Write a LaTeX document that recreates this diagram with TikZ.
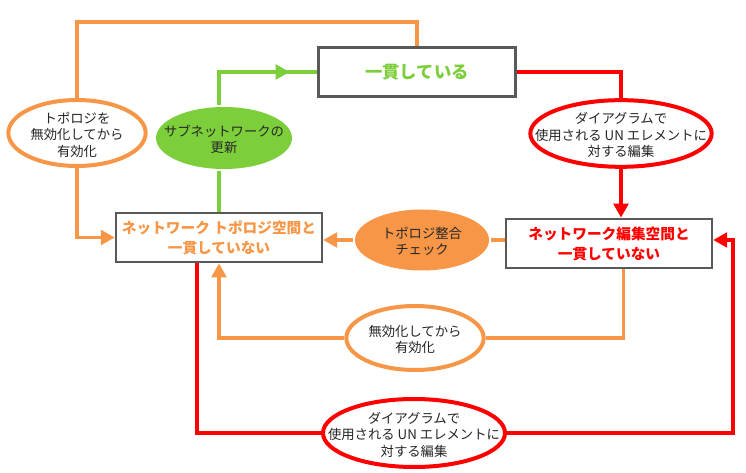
\documentclass[tikz,border=0pt]{standalone}
\usepackage{fontspec}
\setmainfont{Noto Sans CJK JP}
\usepackage{xcolor}
\usetikzlibrary{positioning,arrows.meta,shapes.geometric,decorations.markings}
\definecolor{topoorange}{HTML}{F79646}
\definecolor{subgreen}{HTML}{7DCE3B}
\definecolor{editred}{HTML}{FF0000}
\definecolor{boxgray}{HTML}{595959}
\definecolor{txtgray}{HTML}{262626}
\newcommand{\elltext}[1]{\makebox[0pt]{\raisebox{-5pt}[0pt][0pt]{\begin{tabular}{@{}c@{}}#1\end{tabular}}}}

\begin{document}
\begin{tikzpicture}[
  x=0.75pt, y=-0.75pt,
  >={Triangle[length=10.5pt,width=11pt]},
  state/.style={rectangle, draw=boxgray, line width=1.8pt, fill=white, align=center, font=\fontsize{11}{15}\selectfont\bfseries, minimum width=154.5pt, minimum height=37pt},
  act/.style={ellipse, draw, line width=3pt, fill=white, text=txtgray, font=\fontsize{10}{12.3}\selectfont, inner sep=0pt},
  olink/.style={draw=topoorange, line width=2.6pt},
  rlink/.style={draw=editred, line width=2.6pt},
  glink/.style={draw=subgreen, line width=2.6pt}
]
\useasboundingbox (0,0) rectangle (746,473);

\node[state, text=subgreen, minimum width=148pt, font=\fontsize{13}{15}\selectfont\bfseries] (cons) at (417,72) {一貫している};
\node[state, text=topoorange] (topoin) at (219,237.5) {ネットワーク トポロジ空間と\\一貫していない};
\node[state, text=editred] (editin) at (609,243.5) {ネットワーク編集空間と\\一貫していない};

\node[act, draw=topoorange, minimum width=103pt, minimum height=49.5pt] (reen1) at (77,133) {\elltext{トポロジを\\無効化してから\\有効化}};
\node[act, draw=none, fill=subgreen, minimum width=102pt, minimum height=46.5pt] (subnet) at (224,138) {\elltext{サブネットワークの\\更新}};
\node[act, draw=editred, minimum width=136pt, minimum height=50pt] (diag1) at (621,133.5) {\elltext{ダイアグラムで\\使用される UN エレメントに\\対する編集}};
\node[act, draw=none, fill=topoorange, minimum width=100.5pt, minimum height=45.75pt] (check) at (422,240) {\elltext{トポロジ整合\\チェック}};
\node[act, draw=topoorange, minimum width=103pt, minimum height=48pt] (reen2) at (415,338) {\elltext{無効化してから\\有効化}};
\node[act, draw=editred, minimum width=136.5pt, minimum height=51pt] (diag2) at (414,433) {\elltext{ダイアグラムで\\使用される UN エレメントに\\対する編集}};

\coordinate (topleft) at (77,22);
\coordinate (farright) at (733,240);

\draw[olink] (cons.north) |- (topleft) -- (reen1.north);
\draw[olink,->] (reen1.south) |- (topoin.west);
\draw[glink] (topoin.north) -- (topoin.north |- subnet.south);
\draw[glink, decoration={markings, mark=at position 0.79 with {\arrow{Triangle[length=10.5pt,width=11pt]}}}, postaction=decorate] (subnet.north -| topoin.north) |- (cons.west);
\draw[rlink] (cons.east) -| (diag1.north);
\draw[rlink,->] (diag1.south) -- (diag1.south |- editin.north);
\draw[olink] (editin.west |- check) -- (check.east);
\draw[olink,->] (check.west) -- (check.west -| topoin.east);
\draw[olink] ([xshift=11pt]editin.south) |- (reen2.east);
\draw[olink,->] (reen2.west) -| (topoin.south);
\draw[rlink] ([xshift=-16.5pt]topoin.south) |- (diag2.west);
\draw[rlink,->] (diag2.east) -| (farright) -- (editin.east |- farright);
\end{tikzpicture}
\end{document}
